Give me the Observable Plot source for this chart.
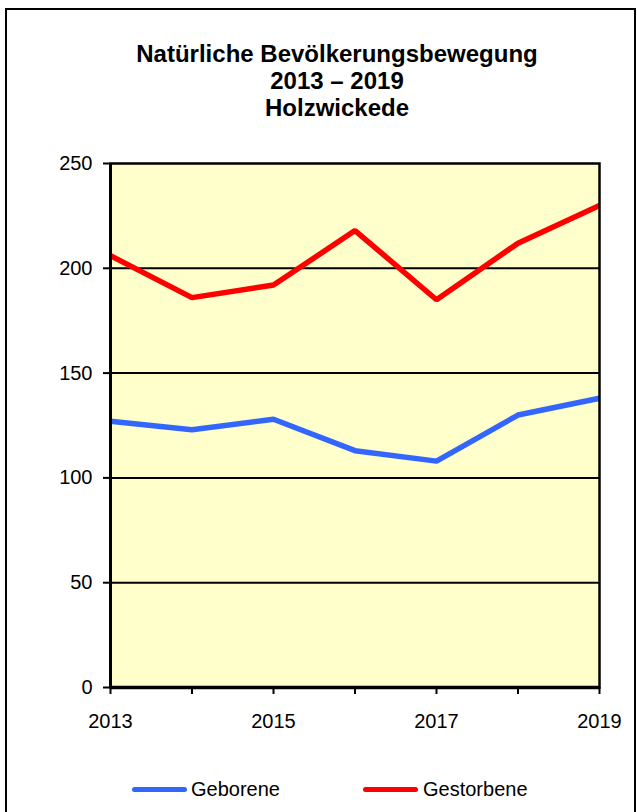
<!DOCTYPE html>
<html>
<head>
<meta charset="utf-8">
<script src="https://cdn.jsdelivr.net/npm/d3@7"></script>
<script src="https://cdn.jsdelivr.net/npm/@observablehq/plot@0.6"></script>
<style>
  html, body { margin: 0; padding: 0; background: #fff; }
  body { width: 637px; height: 812px; position: relative; overflow: hidden; font-family: "Liberation Sans", Arial, sans-serif; }
  #frame { position: absolute; left: 5px; top: 8px; width: 627px; height: 900px; border: 2px solid #000; box-sizing: content-box; }
  #title { position: absolute; left: 37px; top: 40px; width: 600px; text-align: center; font-weight: bold; font-size: 24px; line-height: 27px; color: #000; }
  #chart { position: absolute; left: 0; top: 140px; }
  .leg { position: absolute; top: 777px; font-size: 20px; line-height: 24px; color: #000; }
  .legline { position: absolute; height: 5px; border-radius: 3px; top: 787px; }
</style>
</head>
<body>
<div id="frame"></div>
<div id="title"></div>
<div id="chart"></div>
<div id="legend"></div>
<script>
const titleLines = ["Natürliche Bevölkerungsbewegung", "2013 – 2019", "Holzwickede"];
const years = [2013, 2014, 2015, 2016, 2017, 2018, 2019];
const geborene = [127, 123, 128, 113, 108, 130, 138];
const gestorbene = [206, 186, 192, 218, 185, 212, 230];
const yTicks = [0, 50, 100, 150, 200, 250];
const seriesNames = ["Geborene", "Gestorbene"];
const seriesColors = ["#3366FF", "#FF0000"];

document.getElementById("title").innerHTML = titleLines.map(t => `<div>${t}</div>`).join("");

const rows = [];
years.forEach((y, i) => {
  rows.push({year: y, value: geborene[i], series: seriesNames[0]});
  rows.push({year: y, value: gestorbene[i], series: seriesNames[1]});
});

const chart = Plot.plot({
  width: 637,
  height: 610,
  marginLeft: 110,
  marginRight: 38,
  marginTop: 23,
  marginBottom: 63,
  style: {fontFamily: "'Liberation Sans', Arial, sans-serif", fontSize: "20px", color: "#000", background: "transparent"},
  x: {domain: [2013, 2019]},
  y: {domain: [0, 250]},
  color: {domain: seriesNames, range: seriesColors},
  marks: [
    Plot.frame({fill: "#FFFFCC", stroke: null}),
    Plot.gridY(yTicks.filter(t => t > 0 && t < 250), {stroke: "#000", strokeOpacity: 1, strokeWidth: 2}),
    Plot.line(rows, {x: "year", y: "value", z: "series", stroke: "series", strokeWidth: 5.5, strokeLinejoin: "miter", strokeLinecap: "butt", clip: true}),
    Plot.frame({stroke: "#000", strokeWidth: 2.5}),
    Plot.ruleY([0], {stroke: "#000", strokeWidth: 3.5}),
    Plot.ruleX([2013], {stroke: "#000", strokeWidth: 3}),
    Plot.axisY(yTicks, {tickSize: 7, tickPadding: 11, stroke: "#000", strokeWidth: 2, fontSize: 20, fill: "#000", label: null, tickFormat: d => String(d)}),
    Plot.axisX(years, {tickSize: 7, tickPadding: 19, stroke: "#000", strokeWidth: 2, fontSize: 20, fill: "#000", label: null, tickFormat: d => (d % 2 === 1 ? String(d) : "")})
  ]
});
document.getElementById("chart").appendChild(chart);

const legendPos = [{line: 132, text: 191}, {line: 363, text: 423}];
document.getElementById("legend").innerHTML = seriesNames.map((n, i) =>
  `<div class="legline" style="left:${legendPos[i].line}px;width:55px;background:${seriesColors[i]}"></div>` +
  `<div class="leg" style="left:${legendPos[i].text}px">${n}</div>`
).join("");
</script>
</body>
</html>
